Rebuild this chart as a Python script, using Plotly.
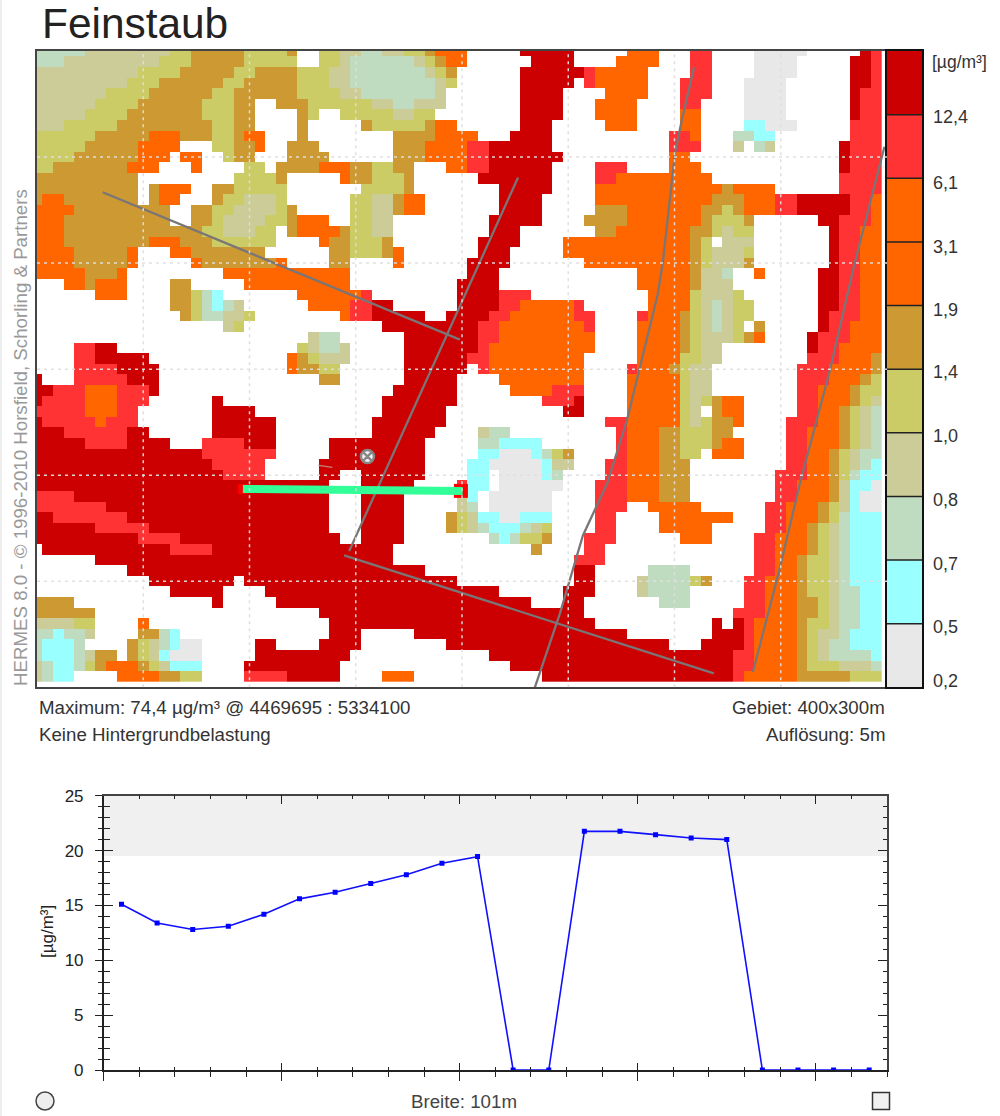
import re
import plotly.graph_objects as go

W, H = 1000, 1116

# Feinstaub classes (legend, bottom to top)
CLASS_LABELS = ["0,2", "0,5", "0,7", "0,8", "1,0", "1,4", "1,9", "3,1", "6,1", "12,4"]
CLASS_COLORS = ["#E8E8E8", "#99FFFF", "#C0DCC0", "#CCCC99", "#CCCC66", "#CC9933",
                "#FF6600", "#FF6600", "#FF3333", "#CC0000"]
CLASS_CODES = {"a": 0, "b": 1, "c": 2, "d": 3, "e": 4, "f": 5, "g": 6, "h": 8, "i": 9, ".": None}

# grid rows, top to bottom: "<first column><class>" runs, "." = no value
MAP_ROWS = [
    "0c 5d 13e 15f 20e 24f 25. 27e 29d 31c 33d 35e 37f 38g 41. 46i 51. 56g 59. 62h 64. 68a 73. 78i 79h",
    "0c 3d 12e 15f 20e 25. 27e 29d 30c 36d 37e 38f 39g 41. 47i 51. 55g 59. 62h 64. 68a 72. 77i 79h",
    "0d 10e 14f 19e 21f 25e 28d 30c 37d 38e 39f 40. 46i 52h 53g 58. 62h 64. 68a 72. 77i 79h",
    "0d 9e 12f 18e 20f 25e 28d 30c 38d 39e 40. 46i 51. 52h 53g 58. 61h 64. 67a 71. 77i 79h",
    "0d 7e 11f 17e 19f 25e 29d 31c 38d 39. 46i 50. 54g 58. 61h 64. 67a 71. 77i 78h",
    "0d 6e 10f 16e 19f 21. 23f 26e 32d 34c 36d 39. 46i 50. 53g 57. 61h 63. 67a 71. 77i 78h",
    "0d 5e 9f 16e 19f 21. 25f 26e 27. 29e 34d 36e 38. 46i 50. 53g 57. 61g 63. 67a 71. 77i 78h",
    "0d 3e 8f 17e 19f 21. 25f 26. 31f 32e 37f 38g 40. 46i 49. 54g 57. 61g 63. 67b 69a 72. 77h",
    "0e 6f 11g 14f 17e 19f 20g 22. 25f 26. 34f 38g 42. 45i 49. 60h 62g 63. 66c 68b 70. 77h",
    "0e 5f 10g 14. 17e 19f 21g 22. 24f 27. 34f 37g 41h 43i 49. 60h 63. 66d 67. 68c 69d 70. 76i 77h",
    "0e 4f 10g 13. 14g 16. 18e 19f 21. 24f 28. 34f 37g 41h 43i 50. 60g 62. 76i 77h",
    "0e 2f 9g 12. 15g 16. 20e 22. 23f 27g 30f 32e 34f 36. 39g 41h 43i 49. 53h 56. 60g 63. 76i 77h",
    "0f 10. 19e 23f 24. 29g 30f 32e 35f 36. 42i 49. 53h 55g 64. 76h",
    "0f 10. 11f 12g 15. 17f 19e 24. 31e 35f 36. 44i 49. 53g 65f 66g 70. 76h",
    "0f 1g 3f 10. 11f 12g 14. 17f 18e 20d 23e 24. 30e 32d 34f 35g 37. 44i 48. 53g 64f 67g 70h 72i 77h 79g",
    "0g 4f 13. 15f 17e 19d 23e 24f 25. 30e 32d 34f 35g 37. 44i 48. 53f 56g 63f 65e 66f 67g 70h 72i 77h 79g",
    "0g 3f 13. 15f 17e 18d 22e 24f 25g 28. 30e 32d 34. 43i 48. 52f 56g 63f 64e 67f 68. 74i 76h 79g",
    "0g 3f 16e 18d 21e 23. 24f 25g 29f 30e 32d 34. 43i 46. 53f 55g 62f 64e 65d 66e 68. 75i 76h 78g",
    "0g 3f 11g 14f 17e 23. 27g 28f 30e 33f 34. 42i 46. 50g 62f 63e 64. 65d 68. 75i 76h 78g",
    "0g 4f 9g 10. 13g 15f 22. 28f 30e 33f 34g 35. 42i 45. 50g 62f 63e 64d 67e 68. 75i 76h 78g",
    "0g 4f 9g 10. 15g 16f 23g 24. 28f 30. 34g 35. 41i 45. 52g 62f 63e 64d 67f 68. 75i 76h 78g",
    "0g 5f 8g 9. 18g 30. 41i 44. 57g 62f 63d 65c 66. 68g 69. 74i 76h 78g",
    "0. 3g 5f 6g 9. 13f 15. 20g 30. 40i 44. 57g 62f 63d 66. 74i 76h 78g",
    "0. 6g 9. 13f 15e 16c 17b 18. 25g 30g 31h 32. 40i 44h 47. 58g 62e 63d 66e 67. 74i 76h 78g",
    "0. 13f 15e 16c 17b 18c 19d 20. 26g 30h 32i 34. 40i 44h 46g 51h 52. 58g 62e 63d 64c 65d 66e 68. 74i 76h 78g",
    "0. 14f 15e 16c 18d 20e 21. 29g 30h 32i 37. 39i 43h 45g 51h 53. 57h 58g 61f 62e 63d 64c 65d 66e 68. 74i 75h 78g",
    "0. 18d 19e 20. 33i 42h 44g 52h 53. 57g 61f 62e 63d 64c 65d 66e 67. 68f 69. 74i 75h 77g",
    "0. 26d 27c 29. 35i 42h 44g 53. 57g 61f 62e 63d 66e 67f 68g 69. 73i 74h 77g",
    "0. 4h 6i 8. 25e 26d 27c 29d 30. 35i 42h 43g 53. 57g 61f 62e 63d 65. 73i 74h 76g",
    "0. 4h 6i 11. 24g 25f 26e 27d 30. 35i 41h 43g 52. 57g 61e 63d 65. 73h 76g 79f",
    "0. 4h 8i 12. 24g 25f 27e 29. 35i 41. 42h 43g 52. 56h 57g 60f 61e 62d 64. 72h 75g 79f",
    "0i 1. 4h 9i 12. 27f 29. 35i 40. 44g 52. 56g 61e 62d 64. 72h 75g 78f 79e",
    "0i 2h 5g 8h 11i 12. 34i 40. 45g 49h 52. 56g 61e 62d 64. 72h 74g 77f 78e",
    "0i 1h 5g 8h 11. 17i 18. 33i 40. 48h 51i 52. 56g 61e 62d 63e 64f 65g 67. 72h 74g 77f 78e 79d",
    "0h 5g 8h 10. 17i 21. 33i 39. 50i 52. 56g 61e 62d 63. 64f 65g 67. 72h 74g 76f 77e 78d 79c",
    "0i 1h 6g 7h 10. 17i 23. 32i 39. 54h 56g 61e 62d 63e 64f 66g 67. 71h 74g 76f 77e 78d 79c",
    "0i 3h 9i 11. 17i 23. 32i 38. 42d 43c 45. 55h 56g 59f 61e 64f 66. 71h 73g 76f 77e 78d 79c",
    "0i 5h 9i 13. 16h 20i 23. 28i 37. 42c 44b 48. 55h 56g 59f 61e 64f 65g 67. 71h 73g 76f 77e 78d 79c",
    "0i 16h 23. 28i 37. 42b 44a 47b 48c 49e 50f 51. 55h 56g 59f 61e 63. 64g 67. 71h 73g 75f 76e 77d 78c",
    "0i 17h 22. 27i 37. 41b 43a 48b 49d 51. 54h 56g 59f 62. 71h 73g 75f 76e 77d 78c 79b",
    "0i 18h 22. 27i 29. 31i 37. 41b 43. 44a 48b 49c 50. 54h 56g 59f 62. 70h 73g 75f 76e 77c 78b",
    "0i 28. 31i 36. 40h 41b 43. 44a 50. 53h 56g 59f 62. 70h 72g 75f 76d 77b 79a",
    "0h 4i 28. 31i 35. 40d 41b 42. 43a 49. 53h 56g 59f 62. 70h 72g 75f 76d 77b 78a",
    "0h 7i 28. 31i 35. 40d 41c 42. 43a 49. 53h 56. 58g 63. 69h 71g 74f 75e 76d 77b 78a",
    "0i 2h 9i 28. 31i 35. 39f 40e 41d 42b 44a 46b 49. 53h 55. 59g 66. 69h 71g 74f 75e 76c 77b",
    "0i 6h 11i 28. 31i 35. 39f 40e 41d 42c 43b 46c 47d 48e 49. 53h 55. 59g 64. 69h 71g 73f 74e 75d 76c 77b",
    "0i 10h 14i 29. 31i 35. 43c 44b 45c 46e 48f 49. 52h 55. 61g 64. 68h 70g 73f 74e 75d 76c 77b",
    "0. 1i 13h 17i 34. 47f 48. 52h 54. 68h 70g 73f 74e 75d 76c 77b",
    "0. 6i 34. 51h 54. 68h 70g 72f 73e 75d 76c 77b",
    "0. 9i 37. 51i 53. 58c 62. 68h 70g 72f 73e 75d 76c 77b",
    "0. 11i 19. 20i 40. 51i 53. 57d 58c 62e 63f 64. 67h 69g 72f 73e 75d 76c 77b",
    "0. 13i 18. 22i 44. 50i 53. 57d 58c 62. 67h 69g 72f 73e 75d 76c 78b",
    "0f 4. 17i 18. 23i 47. 50i 52. 59c 62. 67h 69g 72f 74e 75d 76c 78b",
    "0f 6. 27i 52. 66h 69g 72f 74e 75d 76c 78b",
    "0d 4e 6. 10g 11. 28i 53. 64i 65. 66i 67h 68g 72f 73e 75d 76c 78b",
    "0c 2b 3c 5d 6. 10f 12c 13b 14. 28i 31. 36i 56. 64i 67h 68g 72f 73e 74d 76c 77b",
    "0c 1b 4c 5. 9f 10e 11d 12c 13b 14a 16. 21i 23. 27i 31. 39i 60. 63i 67h 68g 72f 73e 74d 75c 77b",
    "0c 1b 4c 5d 6f 8. 9f 10e 11d 12b 13a 16. 21i 30. 43i 66h 68g 72f 73e 74d 75c 79b",
    "0d 1c 2b 4c 5e 6f 7g 10f 11e 12d 13b 16. 20i 29. 45i 66h 68g 72f 73e 76d 79c",
    "0d 1c 2b 4. 8g 12f 14e 16. 20h 24i 29. 33g 36. 48i 66h 67g 72f 77e",
]

# roads, in metres of the map
ROAD_1_X = [30.9, 199.0]
ROAD_1_Y = [233.4, 163.9]
ROAD_2_X = [226.4, 146.9]
ROAD_2_Y = [240.4, 64.2]
ROAD_3_X = [144.5, 318.5]
ROAD_3_Y = [62.2, 6.6]
ROAD_4_X = [309.2, 303.4, 300.2, 294.6, 292.2, 277.6, 268.3, 256.9, 246.1, 234.3]
ROAD_4_Y = [292.3, 267.2, 251.6, 201.2, 185.7, 125.8, 96.1, 71.6, 34.9, 0.0]
ROAD_5_X = [398.8, 384.9, 373.1, 359.0, 349.7, 336.9]
ROAD_5_Y = [254.9, 200.4, 149.4, 96.1, 56.7, 7.2]
ROADS = [(ROAD_1_X, ROAD_1_Y), (ROAD_2_X, ROAD_2_Y), (ROAD_3_X, ROAD_3_Y),
         (ROAD_4_X, ROAD_4_Y), (ROAD_5_X, ROAD_5_Y)]
STUB_X = [132.5, 139.0]
STUB_Y = [104.6, 103.7]

SECTION_X = [96.9, 148.7, 148.7, 200.3]
SECTION_Y = [93.5, 93.5, 92.6, 92.6]
POINT_X = [155.5]
POINT_Y = [108.8]

# profile along the section
PROFILE_X = [2.5, 7.5, 12.5, 17.5, 22.5, 27.5, 32.5, 37.5, 42.5, 47.5, 52.5,
             57.5, 62.5, 67.5, 72.5, 77.5, 82.5, 87.5, 92.5, 97.5, 102.5, 107.5]
PROFILE_Y = [15.1, 13.4, 12.8, 13.1, 14.2, 15.6, 16.2, 17.0, 17.8, 18.85, 19.45,
             0, 0, 21.75, 21.75, 21.45, 21.15, 21.0, 0, 0, 0, 0]
LIMIT = 19.5

FONT = "Liberation Sans"
TXT = "#333333"


def parse_row(s):
    runs = [(int(a), b) for a, b in re.findall(r"(\d+)([a-i.])", s)]
    out = [None] * 80
    for n, (start, code) in enumerate(runs):
        end = runs[n + 1][0] if n + 1 < len(runs) else 80
        for c in range(start, end):
            out[c] = CLASS_CODES[code]
    return out


def px(x):
    return x / W


def py(y):
    return 1 - y / H


z = [parse_row(r) for r in MAP_ROWS]
n = len(CLASS_COLORS)
cscale = []
for i, c in enumerate(CLASS_COLORS):
    cscale += [[i / n, c], [(i + 1) / n, c]]

fig = go.Figure()

fig.add_trace(go.Heatmap(
    z=z, x=[5 * i for i in range(80)], y=[300 - 5 * r for r in range(len(z))],
    zmin=0, zmax=n, colorscale=cscale, showscale=False, hoverinfo="skip",
    xaxis="x", yaxis="y"))

GRID_COLOR = "rgba(222,222,222,0.95)"
for gx in range(50, 400, 50):
    fig.add_shape(type="line", xref="x", yref="y", x0=gx, x1=gx, y0=0, y1=300, layer="above",
                  line=dict(color=GRID_COLOR, width=1.5, dash="3px,4px"))
for gy in range(50, 300, 50):
    fig.add_shape(type="line", xref="x", yref="y", x0=0, x1=400, y0=gy, y1=gy, layer="above",
                  line=dict(color=GRID_COLOR, width=1.5, dash="3px,4px"))

for rx, ry in ROADS:
    fig.add_trace(go.Scatter(x=rx, y=ry, mode="lines", xaxis="x", yaxis="y", hoverinfo="skip",
                             line=dict(color="#7A7576", width=2.3)))
fig.add_trace(go.Scatter(x=STUB_X, y=STUB_Y, mode="lines", xaxis="x", yaxis="y", hoverinfo="skip",
                         line=dict(color="#C88080", width=1.2)))
fig.add_trace(go.Scatter(x=[SECTION_X[-1] - 0.8], y=[SECTION_Y[-1]], mode="markers", xaxis="x", yaxis="y",
                         hoverinfo="skip", marker=dict(symbol="square", color="#FF0000", size=14)))
fig.add_trace(go.Scatter(x=[SECTION_X[0]], y=[SECTION_Y[0]], mode="markers", xaxis="x", yaxis="y",
                         hoverinfo="skip", marker=dict(symbol="square", color="#FF0000", size=10)))
fig.add_trace(go.Scatter(x=SECTION_X, y=SECTION_Y, mode="lines", xaxis="x", yaxis="y", hoverinfo="skip",
                         line=dict(color="#33FF99", width=8)))
fig.add_trace(go.Scatter(x=POINT_X, y=POINT_Y, mode="markers", xaxis="x", yaxis="y", hoverinfo="skip",
                         marker=dict(symbol="circle-x", size=13, color="#F4F4F4",
                                     line=dict(color="#888888", width=2.5))))

# legend column
fig.add_trace(go.Heatmap(z=[[i] for i in range(n)], x=[0], y=list(range(n)), zmin=0, zmax=n,
                         colorscale=cscale, showscale=False, hoverinfo="skip",
                         xaxis="x2", yaxis="y2"))
for i in range(n - 1):
    fig.add_shape(type="line", xref="x2", yref="y2", x0=-0.5, x1=0.5, y0=i + 0.5, y1=i + 0.5, layer="above",
                  line=dict(color="#222222", width=1.5))

# profile chart
fig.add_trace(go.Scatter(x=PROFILE_X, y=PROFILE_Y, mode="lines+markers", xaxis="x3", yaxis="y3",
                         hoverinfo="skip", line=dict(color="#1010FF", width=1.6),
                         marker=dict(symbol="square", color="#0000FF", size=5)))
for xa, ya in (("x4", "y4"), ("x5", "y5")):
    fig.add_trace(go.Scatter(x=[0, 110], y=[0, 25], mode="none", xaxis=xa, yaxis=ya, hoverinfo="skip"))

fig.add_shape(type="rect", xref="x3", yref="y3", x0=0, x1=110, y0=LIMIT, y1=25, layer="below",
              fillcolor="#F0F0F0", line=dict(width=0))

FRAME = "#444444"
AX = "#222222"
MX = [px(37), px(887)]
MY = [py(687.3), py(51)]
PX = [px(103.7), px(887)]
PY = [py(1070), py(795.7)]


def xticks(ticks, major, minor):
    return dict(range=[0, 110], domain=PX, dtick=25, tick0=0, ticks=ticks, ticklen=major, tickwidth=1.3,
                tickcolor=AX, minor=dict(dtick=5, tick0=0, ticks=ticks, ticklen=minor, tickwidth=1.3, tickcolor=AX),
                showticklabels=False, showgrid=False, zeroline=False, automargin=False)


def yticks(ticks, major, minor):
    return dict(range=[0, 25], domain=PY, dtick=5, tick0=0, ticks=ticks, ticklen=major, tickwidth=1.3,
                tickcolor=AX, minor=dict(dtick=1, tick0=0, ticks=ticks, ticklen=minor, tickwidth=1.3, tickcolor=AX),
                showticklabels=False, showgrid=False, zeroline=False, automargin=False)


fig.update_layout(
    template="none",
    width=W, height=H, margin=dict(l=0, r=0, t=0, b=0, pad=0, autoexpand=False), showlegend=False,
    paper_bgcolor="white", plot_bgcolor="white", font=dict(family=FONT, color=TXT),
    xaxis=dict(domain=MX, range=[0, 400], showticklabels=False, ticks="", showgrid=False, zeroline=False,
               showline=True, mirror=True, linecolor=FRAME, linewidth=2, automargin=False),
    yaxis=dict(domain=MY, range=[0, 300], showticklabels=False, ticks="", showgrid=False, zeroline=False,
               showline=True, mirror=True, linecolor=FRAME, linewidth=2, automargin=False),
    xaxis2=dict(domain=[px(887), px(922)], range=[-0.5, 0.5], showticklabels=False, ticks="", showgrid=False,
                zeroline=False, showline=True, mirror=True, linecolor="#111111", linewidth=2, anchor="y2",
                automargin=False),
    yaxis2=dict(domain=MY, range=[-0.5, n - 0.5], showticklabels=False, ticks="", showgrid=False,
                zeroline=False, showline=True, mirror=True, linecolor="#111111", linewidth=2, anchor="x2",
                automargin=False),
    xaxis3=dict(**xticks("outside", 9, 5), anchor="y3", showline=True, linecolor=AX, linewidth=1.5),
    yaxis3=dict(**{**yticks("outside", 7, 4), "showticklabels": True}, anchor="x3", showline=True,
                linecolor=AX, linewidth=1.5, ticklabelstandoff=8,
                tickfont=dict(family=FONT, size=17, color="#222222")),
    xaxis4=dict(**xticks("inside", 7, 3), anchor="y4", overlaying="x3"),
    yaxis4=dict(**yticks("inside", 9, 6), anchor="x4", overlaying="y3"),
    xaxis5=dict(**xticks("inside", 9, 4), anchor="y5", side="top", overlaying="x3",
                showline=True, linecolor="#444444", linewidth=1.5),
    yaxis5=dict(**yticks("inside", 9, 4), anchor="x5", side="right", overlaying="y3",
                showline=True, linecolor="#444444", linewidth=1.5),
)

# outer strip, and the two round/square buttons of the profile
fig.add_shape(type="rect", xref="paper", yref="paper", x0=0, x1=px(2), y0=0, y1=1,
              fillcolor="#EEEEEE", line=dict(width=0), layer="below")
fig.add_shape(type="circle", xref="paper", yref="paper", x0=px(36), x1=px(54), y0=py(1110), y1=py(1092),
              fillcolor="#EEEEEE", line=dict(color="#444444", width=1.5))
fig.add_shape(type="rect", xref="paper", yref="paper", x0=px(872.5), x1=px(889.5), y0=py(1109.5), y1=py(1092.5),
              fillcolor="#F0F0F0", line=dict(color="#333333", width=1.5))


def label(text, x, y, size, anchor="left", color=TXT, angle=0):
    fig.add_annotation(text=text, x=px(x), y=py(y), xref="paper", yref="paper", showarrow=False,
                       xanchor=anchor, yanchor="middle", textangle=angle, borderpad=0, borderwidth=0,
                       font=dict(family=FONT, size=size, color=color))


label("Feinstaub", 42, 23, 42.4, color="#222222")
label("Maximum: 74,4 µg/m³ @ 4469695 : 5334100", 39, 707, 18.7)
label("Keine Hintergrundbelastung", 39, 734, 18.7)
label("Gebiet: 400x300m", 885, 707, 18.7, anchor="right")
label("Auflösung: 5m", 885, 734, 18.7, anchor="right")
label("Breite: 101m", 464, 1101, 18.7, anchor="center", color="#444444")
label("HERMES 8.0 - © 1996-2010 Horsfield, Schorling & Partners", 20, 438, 18.7, anchor="center",
      color="#999999", angle=-90)
label("[µg/m³]", 47, 932, 17, anchor="center", color="#222222", angle=-90)
label("[µg/m³]", 932, 62, 17.5)
LABEL_Y = [681, 627, 564, 500, 436, 372, 310, 247, 183, 117]
for txt, ly in zip(CLASS_LABELS, LABEL_Y):
    label(txt, 933, ly, 18)

fig.write_html("out.html", config=dict(displayModeBar=False),
               post_script="document.body.style.margin='0';document.body.style.overflow='hidden';")
